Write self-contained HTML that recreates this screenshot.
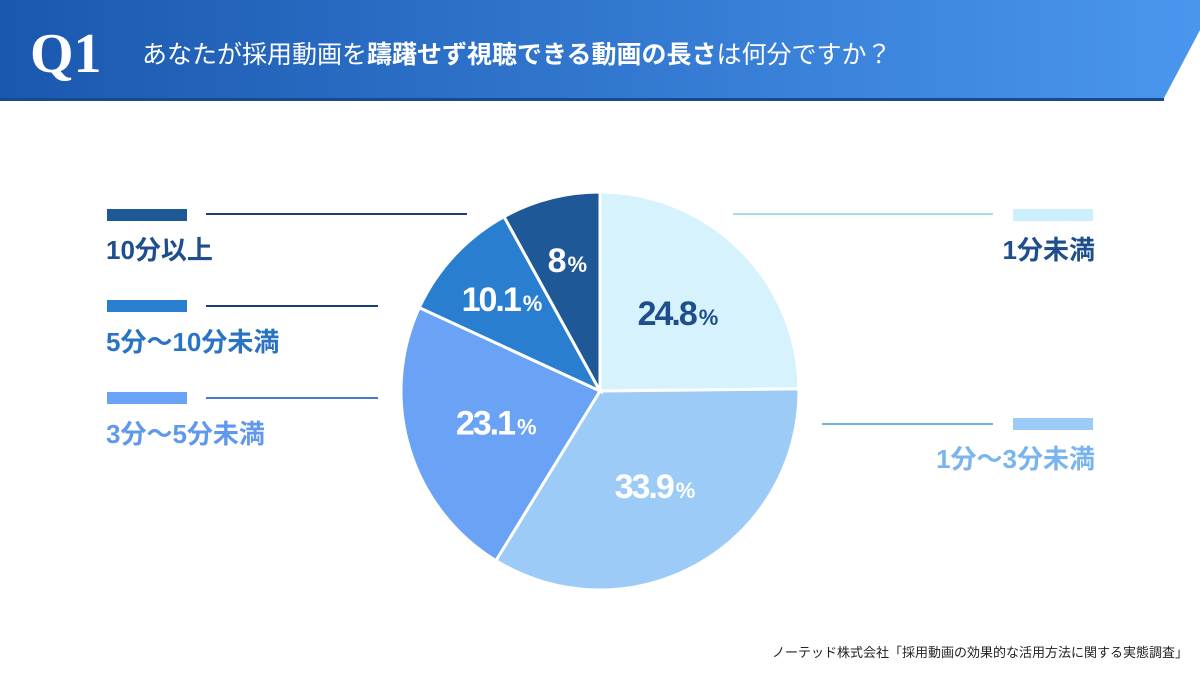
<!DOCTYPE html>
<html><head><meta charset="utf-8"><style>
body{margin:0;width:1200px;height:675px;background:#fff;overflow:hidden;font-family:"Liberation Sans","Noto Sans CJK JP",sans-serif}
svg text{font-family:"Liberation Sans","Noto Sans CJK JP",sans-serif}
</style></head><body>
<svg width="1200" height="675" viewBox="0 0 1200 675">
<defs><linearGradient id="hg" x1="0" x2="1" y1="0" y2="0"><stop offset="0" stop-color="#1a58ae"/><stop offset="1" stop-color="#4a96ef"/></linearGradient></defs>
<polygon points="0,0 1200,0 1200,30 1163,100 0,100" fill="url(#hg)"/>
<rect x="0" y="98" width="1164" height="3" fill="#184a8e"/>
<text x="30" y="72" font-size="56" font-weight="bold" fill="#fff" style="font-family:'Liberation Serif',serif">Q1</text>
<text x="142" y="63" font-size="25" fill="#fff">あなたが採用動画を<tspan font-weight="bold">躊躇せず視聴できる動画の長さ</tspan>は何分ですか？</text>
<g id="pie"></g>
<g id="legend">
<rect x="107" y="209" width="80" height="12" fill="#1e5896"/>
<line x1="206" y1="214" x2="467" y2="214" stroke="#1b3f7e" stroke-width="2"/>
<text x="106" y="259" font-size="26" font-weight="bold" fill="#1e4f8c">10分以上</text>
<rect x="107" y="300" width="80" height="12" fill="#2a7ed0"/>
<line x1="206" y1="306" x2="378" y2="306" stroke="#1b3f7e" stroke-width="2"/>
<text x="106" y="351" font-size="26" font-weight="bold" fill="#2a73c4">5分～10分未満</text>
<rect x="107" y="392" width="80" height="12" fill="#6aa3f5"/>
<line x1="206" y1="398" x2="378" y2="398" stroke="#4a78c8" stroke-width="2"/>
<text x="106" y="443" font-size="26" font-weight="bold" fill="#5f98ec">3分～5分未満</text>
<rect x="1013" y="209" width="80" height="12" fill="#cdeefb"/>
<line x1="733" y1="214" x2="993" y2="214" stroke="#a6dbe8" stroke-width="2"/>
<text x="1095" y="259" font-size="26" font-weight="bold" fill="#1e4f8c" text-anchor="end">1分未満</text>
<rect x="1013" y="418" width="80" height="12" fill="#9ccbf8"/>
<line x1="822" y1="424" x2="993" y2="424" stroke="#7ab0e8" stroke-width="2"/>
<text x="1095" y="468" font-size="26" font-weight="bold" fill="#7ab4ef" text-anchor="end">1分～3分未満</text>
</g>
<text x="1188" y="657" font-size="13" fill="#222" text-anchor="end">ノーテッド株式会社「採用動画の効果的な活用方法に関する実態調査」</text>
</svg>
<script>
const categories=["1分未満","1分～3分未満","3分～5分未満","5分～10分未満","10分以上"];
const values=[24.8,33.9,23.1,10.1,8];
const valueLabels=["24.8","33.9","23.1","10.1","8"];
const colors=["#d6f2fd","#9ccbf8","#6aa3f5","#2a7ed0","#1e5896"];
const textColors=["#1e4f8c","#fff","#fff","#fff","#fff"];
const cx=600,cy=391,r=199;
const g=document.getElementById('pie');
const NS="http://www.w3.org/2000/svg";
const total=values.reduce((a,b)=>a+b,0);
function pt(a,rr){return [cx+rr*Math.sin(a),cy-rr*Math.cos(a)];}
let acc=0;
values.forEach((v,i)=>{
  const a0=acc/total*2*Math.PI; acc+=v; const a1=acc/total*2*Math.PI;
  const p0=pt(a0,r),p1=pt(a1,r);
  const large=(a1-a0)>Math.PI?1:0;
  const path=document.createElementNS(NS,'path');
  path.setAttribute('d',`M${cx},${cy}L${p0[0]},${p0[1]}A${r},${r} 0 ${large} 1 ${p1[0]},${p1[1]}Z`);
  path.setAttribute('fill',colors[i]);
  path.setAttribute('stroke','#fff');
  path.setAttribute('stroke-width','3');
  
  
  g.appendChild(path);
  const am=(a0+a1)/2; const lr=(v<12)?r*0.68:r*0.55;
  const lp=pt(am,lr);
  const t=document.createElementNS(NS,'text');
  t.setAttribute('x',lp[0]);t.setAttribute('y',lp[1]+12);
  t.setAttribute('text-anchor','middle');
  t.setAttribute('font-size','34');t.setAttribute('font-weight','bold');
  t.setAttribute('fill',textColors[i]);
  t.setAttribute('letter-spacing','-2');
  t.innerHTML=valueLabels[i]+'<tspan font-size="22" dx="3">%</tspan>';
  
  
  g.appendChild(t);
});
</script>
</body></html>
